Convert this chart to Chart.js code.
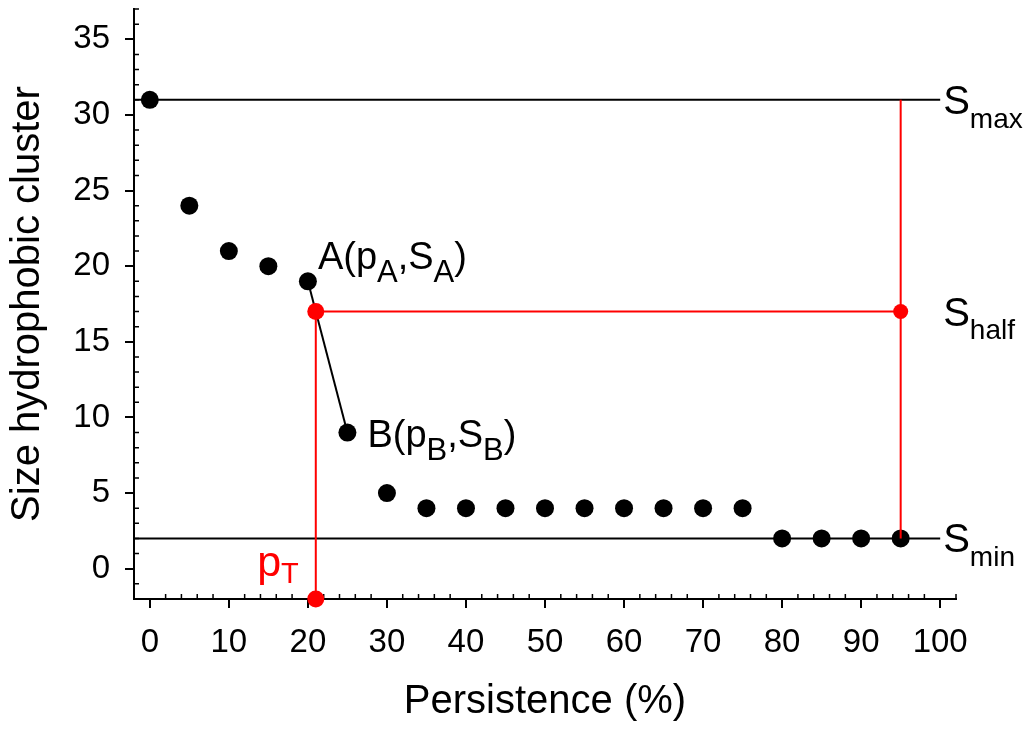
<!DOCTYPE html>
<html>
<head>
<meta charset="utf-8">
<script src="https://cdn.jsdelivr.net/npm/chart.js@4/dist/chart.umd.min.js"></script>
<style>
  body { margin: 0; background: #fff; }
</style>
</head>
<body>
<canvas id="myChart" width="1028" height="729"></canvas>
<script>
// values
var persistence = [0, 5, 10, 15, 20, 25, 30, 35, 40, 45, 50, 55, 60, 65, 70, 75, 80, 85, 90, 95];
var sizeCluster = [31, 24, 21, 20, 19, 9, 5, 4, 4, 4, 4, 4, 4, 4, 4, 4, 2, 2, 2, 2];

var sMax = 31, sMin = 2, sHalf = 17;
var pointA = {x: 20, y: 19}, pointB = {x: 25, y: 9};
var pT = 21;        // where segment AB crosses S_half
var pLast = 95;     // last measured persistence
var lineEnd = 100;  // S_max / S_min reference lines stop here

var xMin = -2, xMax = 102, yMin = -2, yMax = 37;
var xTicks = [0, 10, 20, 30, 40, 50, 60, 70, 80, 90, 100];
var yTicks = [0, 5, 10, 15, 20, 25, 30, 35];

var labelA = [['A(p', 0], ['A', 1], [',S', 0], ['A', 1], [')', 0]];
var labelB = [['B(p', 0], ['B', 1], [',S', 0], ['B', 1], [')', 0]];
var labelMax = [['S', 0], ['max', 1]];
var labelHalf = [['S', 0], ['half', 1]];
var labelMin = [['S', 0], ['min', 1]];
var labelPT = [['p', 0], ['T', 1]];

var FONT = '"Liberation Sans", Arial, sans-serif';
var RED = '#ff0000';

var xMinor = [], yMinor = [];
for (var v = 0; v <= xMax; v += 2) if (v % 10) xMinor.push(v);
for (var w = -1; w <= yMax; w++) if (w % 5) yMinor.push(w);

var points = persistence.map(function (p, i) { return {x: p, y: sizeCluster[i]}; });

function drawRich(ctx, parts, x, y, size, subSize, drop, color, alignRight) {
    ctx.fillStyle = color;
    ctx.textBaseline = 'alphabetic';
    ctx.textAlign = 'left';
    var total = 0;
    parts.forEach(function (p) {
        ctx.font = (p[1] ? subSize : size) + 'px ' + FONT;
        total += ctx.measureText(p[0]).width;
    });
    var cx = alignRight ? x - total : x;
    parts.forEach(function (p) {
        ctx.font = (p[1] ? subSize : size) + 'px ' + FONT;
        ctx.fillText(p[0], cx, p[1] ? y + drop : y);
        cx += ctx.measureText(p[0]).width;
    });
}

var minorTicks = {
    id: 'minorTicks',
    beforeDatasetsDraw: function (chart) {
        var ctx = chart.ctx, xs = chart.scales.x, ys = chart.scales.y, a = chart.chartArea;
        ctx.save();
        ctx.strokeStyle = '#000';
        ctx.lineWidth = 1.5;
        ctx.beginPath();
        xMinor.forEach(function (v) {
            var p = xs.getPixelForValue(v);
            ctx.moveTo(p, a.bottom); ctx.lineTo(p, a.bottom - 5);
        });
        yMinor.forEach(function (v) {
            var p = ys.getPixelForValue(v);
            ctx.moveTo(a.left, p); ctx.lineTo(a.left + 5, p);
        });
        ctx.stroke();
        ctx.restore();
    }
};

var annotations = {
    id: 'annotations',
    afterDatasetsDraw: function (chart) {
        var ctx = chart.ctx, xs = chart.scales.x, ys = chart.scales.y;
        ctx.save();
        var sx = xs.getPixelForValue(lineEnd) + 3;
        drawRich(ctx, labelMax, sx, ys.getPixelForValue(sMax) + 14, 40, 28, 14, '#000');
        drawRich(ctx, labelHalf, sx, ys.getPixelForValue(sHalf) + 14, 40, 28, 13, '#000');
        drawRich(ctx, labelMin, sx, ys.getPixelForValue(sMin) + 14, 40, 28, 14, '#000');
        drawRich(ctx, labelA, xs.getPixelForValue(pointA.x) + 10, ys.getPixelForValue(pointA.y) - 12, 38, 31, 13, '#000');
        drawRich(ctx, labelB, xs.getPixelForValue(pointB.x) + 20, ys.getPixelForValue(pointB.y) + 14, 38, 31, 13, '#000');
        drawRich(ctx, labelPT, xs.getPixelForValue(pT) - 17, ys.getPixelForValue(yMin) - 23, 43, 29, 7, RED, true);
        ctx.restore();
    }
};

var ctx = document.getElementById('myChart').getContext('2d');
var chart = new Chart(ctx, {
    type: 'scatter',
    data: {
        datasets: [
            {
                // red markers: crossing point, p_T on the axis, S_half at the last point
                data: [{x: pT, y: sHalf}, {x: pT, y: yMin}, {x: pLast, y: sHalf}],
                backgroundColor: RED,
                borderWidth: 0,
                pointRadius: [8.5, 8.5, 7.5],
                clip: false
            },
            {
                data: [{x: pT, y: yMin}, {x: pT, y: sHalf}, {x: pLast, y: sHalf}],
                showLine: true,
                borderColor: RED,
                borderWidth: 2,
                pointRadius: 0,
                clip: false
            },
            {
                data: [{x: pLast, y: sMax}, {x: pLast, y: sMin}],
                showLine: true,
                borderColor: RED,
                borderWidth: 2,
                pointRadius: 0
            },
            {
                data: points,
                backgroundColor: '#000',
                borderWidth: 0,
                pointRadius: 9,
                clip: false
            },
            {
                data: [pointA, pointB],
                showLine: true,
                borderColor: '#000',
                borderWidth: 2,
                pointRadius: 0
            },
            {
                data: [{x: xMin, y: sMax}, {x: lineEnd, y: sMax}],
                showLine: true,
                borderColor: '#000',
                borderWidth: 2,
                pointRadius: 0
            },
            {
                data: [{x: xMin, y: sMin}, {x: lineEnd, y: sMin}],
                showLine: true,
                borderColor: '#000',
                borderWidth: 2,
                pointRadius: 0
            }
        ]
    },
    options: {
        responsive: false,
        animation: false,
        devicePixelRatio: 1,
        layout: { padding: { top: 9, right: 72, left: 0, bottom: 0 } },
        plugins: {
            legend: { display: false },
            tooltip: { enabled: false }
        },
        scales: {
            x: {
                type: 'linear',
                min: xMin,
                max: xMax,
                afterBuildTicks: function (s) { s.ticks = xTicks.map(function (v) { return {value: v}; }); },
                afterFit: function (s) { s.height = 130; s.paddingLeft = 0; s.paddingRight = 0; },
                grid: { drawOnChartArea: false, tickLength: 9, color: '#000', lineWidth: 2 },
                border: { color: '#000', width: 2 },
                ticks: { color: '#000', font: { family: FONT, size: 33 }, padding: 15, maxRotation: 0, autoSkip: false },
                title: { display: true, text: 'Persistence (%)', color: '#000', font: { family: FONT, size: 40 }, padding: { top: 0, bottom: 3 } }
            },
            y: {
                type: 'linear',
                min: yMin,
                max: yMax,
                afterBuildTicks: function (s) { s.ticks = yTicks.map(function (v) { return {value: v}; }); },
                afterFit: function (s) { s.width = 134; s.paddingTop = 0; s.paddingBottom = 0; },
                grid: { drawOnChartArea: false, tickLength: 9, color: '#000', lineWidth: 2 },
                border: { color: '#000', width: 2 },
                ticks: { color: '#000', font: { family: FONT, size: 33 }, padding: 15, autoSkip: false },
                title: { display: true, text: 'Size hydrophobic cluster', color: '#000', font: { family: FONT, size: 40 }, padding: { top: 4, bottom: 0 } }
            }
        }
    },
    plugins: [minorTicks, annotations]
});
</script>
</body>
</html>
